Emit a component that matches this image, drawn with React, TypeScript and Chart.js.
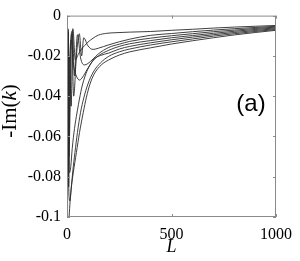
import { useEffect, useRef } from "react";
import { Chart, registerables } from "chart.js";

Chart.register(...registerables);

// ---- axis ticks ----
const xTickValues = [0, 500, 1000];
const xTickLabels = ["0", "500", "1000"];
const yTickValues = [-0.1, -0.08, -0.06, -0.04, -0.02, 0];
const yTickLabels = ["-0.1", "-0.08", "-0.06", "-0.04", "-0.02", "0"];
const xTitle = "L";
const yTitleParts = ["-Im(", "k", ")"];
const panelLabel = "(a)";

// ---- curves: L values and -Im(k) values ----
const c1L = [0.5, 1.5, 3, 4.5, 7, 12, 20, 28, 40, 55, 70, 85, 100, 125, 150, 190, 230, 300, 400, 500, 600, 700, 800, 900, 1000];
const c1V = [-0.03, -0.095, -0.02, -0.0065, -0.06, -0.02, -0.045, -0.0065, -0.022, -0.019, -0.0165, -0.0148, -0.0132, -0.0112, -0.0097, -0.0088, -0.0085, -0.0082, -0.0079, -0.0073, -0.0068, -0.0062, -0.0057, -0.0053, -0.0049];

const c2L = [1, 2.5, 4, 6, 9, 15, 22, 32, 45, 59, 70, 80, 100, 125, 150, 200, 250, 300, 400, 500, 600, 700, 800, 900, 1000];
const c2V = [-0.05, -0.1, -0.02, -0.008, -0.07, -0.045, -0.009, -0.04, -0.02, -0.009, -0.02, -0.011, -0.015, -0.0168, -0.0162, -0.0145, -0.013, -0.0117, -0.0098, -0.0089, -0.008, -0.0072, -0.0065, -0.0059, -0.0053];

const c3L = [1.5, 3, 5, 8, 12, 18, 26, 36, 50, 65, 83, 100, 125, 150, 200, 250, 300, 400, 500, 600, 700, 800, 900, 1000];
const c3V = [-0.08, -0.01, -0.007, -0.085, -0.05, -0.012, -0.0075, -0.03, -0.0095, -0.021, -0.0245, -0.0238, -0.0215, -0.019, -0.0158, -0.0142, -0.0128, -0.0112, -0.01, -0.009, -0.008, -0.0072, -0.0064, -0.0057];

const c4L = [0.8, 2, 3.5, 5, 8, 14, 20, 32, 45, 60, 75, 95, 120, 150, 200, 250, 300, 400, 500, 600, 700, 800, 900, 1000];
const c4V = [-0.06, -0.095, -0.02, -0.009, -0.075, -0.02, -0.012, -0.025, -0.03, -0.032, -0.0305, -0.027, -0.023, -0.02, -0.0172, -0.0153, -0.014, -0.0124, -0.011, -0.0099, -0.0088, -0.0078, -0.0069, -0.0061];

const c5L = [3, 7, 12, 18, 25, 36, 45, 55, 70, 90, 110, 130, 160, 200, 250, 300, 400, 500, 600, 700, 800, 900, 1000];
const c5V = [-0.012, -0.06, -0.078, -0.075, -0.066, -0.056, -0.05, -0.044, -0.036, -0.029, -0.0245, -0.0215, -0.0198, -0.0186, -0.0166, -0.0153, -0.0135, -0.012, -0.0107, -0.0095, -0.0084, -0.0074, -0.0065];

const c6L = [5, 9, 14, 20, 28, 38, 50, 65, 80, 100, 126, 160, 200, 250, 300, 400, 500, 600, 700, 800, 900, 1000];
const c6V = [-0.05, -0.088, -0.092, -0.086, -0.077, -0.068, -0.058, -0.048, -0.041, -0.034, -0.028, -0.0235, -0.0202, -0.018, -0.0166, -0.0146, -0.013, -0.0116, -0.0102, -0.009, -0.0079, -0.0069];

const c7L = [10, 15, 21, 30, 45, 60, 78, 93, 110, 130, 164, 200, 250, 300, 400, 500, 600, 700, 800, 900, 1000];
const c7V = [-0.1, -0.092, -0.085, -0.078, -0.068, -0.058, -0.048, -0.0405, -0.034, -0.029, -0.0245, -0.022, -0.0196, -0.018, -0.016, -0.0141, -0.0125, -0.011, -0.0096, -0.0084, -0.0073];

const curves = [
  [c1L, c1V],
  [c2L, c2V],
  [c3L, c3V],
  [c4L, c4V],
  [c5L, c5V],
  [c6L, c6V],
  [c7L, c7V],
];

const labelFor = (values: number[], labels: string[], v: number) => {
  const i = values.findIndex((t) => Math.abs(t - v) < 1e-9);
  return i >= 0 ? labels[i] : "";
};

const SERIF = "'Liberation Serif', 'Times New Roman', serif";

const framePlugin = {
  id: "frame",
  afterDraw(chart: any) {
    const { ctx, chartArea: a, scales } = chart;
    ctx.save();
    ctx.strokeStyle = "#8a8a8a";
    ctx.lineWidth = 1;
    ctx.strokeRect(a.left + 0.5, a.top + 0.5, a.right - a.left - 1, a.bottom - a.top - 1);
    const tl = 3;
    ctx.beginPath();
    xTickValues.forEach((v) => {
      const px = Math.round(scales.x.getPixelForValue(v)) + 0.5;
      ctx.moveTo(px, a.bottom);
      ctx.lineTo(px, a.bottom - tl);
      ctx.moveTo(px, a.top);
      ctx.lineTo(px, a.top + tl);
    });
    yTickValues.forEach((v) => {
      const py = Math.round(scales.y.getPixelForValue(v)) + 0.5;
      ctx.moveTo(a.left, py);
      ctx.lineTo(a.left + tl, py);
      ctx.moveTo(a.right, py);
      ctx.lineTo(a.right - tl, py);
    });
    ctx.stroke();

    ctx.fillStyle = "#000";
    // panel label
    ctx.font = "24px 'Liberation Sans', Arial, sans-serif";
    ctx.textAlign = "center";
    ctx.textBaseline = "middle";
    ctx.fillText(panelLabel, a.right - 25, a.top + 89);

    // x title
    ctx.font = `italic 18px ${SERIF}`;
    ctx.textBaseline = "middle";
    ctx.fillText(xTitle, (a.left + a.right) / 2, 247);

    // y title (rotated, mixed italic)
    const fonts = [`21px ${SERIF}`, `italic 21px ${SERIF}`, `21px ${SERIF}`];
    const widths = yTitleParts.map((t, i) => {
      ctx.font = fonts[i];
      return ctx.measureText(t).width;
    });
    const total = widths.reduce((s, w) => s + w, 0);
    ctx.translate(16, 111);
    ctx.rotate(-Math.PI / 2);
    ctx.textAlign = "left";
    ctx.textBaseline = "alphabetic";
    let x = -total / 2;
    yTitleParts.forEach((t, i) => {
      ctx.font = fonts[i];
      ctx.fillText(t, x, 0);
      x += widths[i];
    });
    ctx.restore();
  },
};

export default function App() {
  const ref = useRef<HTMLCanvasElement | null>(null);
  useEffect(() => {
    if (!ref.current) return;
    const datasets = curves.map(([ls, vs]) => ({
      data: ls.map((l, i) => ({ x: l, y: vs[i] })),
      showLine: true,
      borderColor: "#2a2a2a",
      borderWidth: 0.9,
      pointRadius: 0,
      cubicInterpolationMode: "monotone" as const,
      fill: false,
    }));
    const chart = new Chart(ref.current, {
      type: "scatter",
      data: { datasets },
      options: {
        animation: false,
        responsive: false,
        devicePixelRatio: 1,
        layout: { padding: { left: 0, right: 22, top: 6, bottom: 0 } },
        plugins: { legend: { display: false }, tooltip: { enabled: false } },
        scales: {
          x: {
            type: "linear",
            min: 0,
            max: 1000,
            afterBuildTicks: (s: any) => {
              s.ticks = xTickValues.map((v) => ({ value: v }));
            },
            afterFit: (s: any) => {
              s.height = 44;
            },
            grid: { display: false, drawTicks: false },
            border: { display: false },
            ticks: {
              padding: 8,
              color: "#000",
              maxRotation: 0,
              font: { family: SERIF, size: 16 },
              callback: (v: any) => labelFor(xTickValues, xTickLabels, Number(v)),
            },
          },
          y: {
            type: "linear",
            min: -0.1,
            max: 0,
            afterBuildTicks: (s: any) => {
              s.ticks = yTickValues.map((v) => ({ value: v }));
            },
            afterFit: (s: any) => {
              s.width = 67;
            },
            grid: { display: false, drawTicks: false },
            border: { display: false },
            ticks: {
              padding: 6,
              color: "#000",
              font: { family: SERIF, size: 16 },
              callback: (v: any) => labelFor(yTickValues, yTickLabels, Number(v)),
            },
          },
        },
      },
      plugins: [framePlugin],
    });
    return () => chart.destroy();
  }, []);
  return (
    <div style={{ position: "fixed", left: 0, top: 0, width: 300, height: 261, background: "#fff" }}>
      <canvas ref={ref} width={300} height={261} style={{ display: "block" }} />
    </div>
  );
}
